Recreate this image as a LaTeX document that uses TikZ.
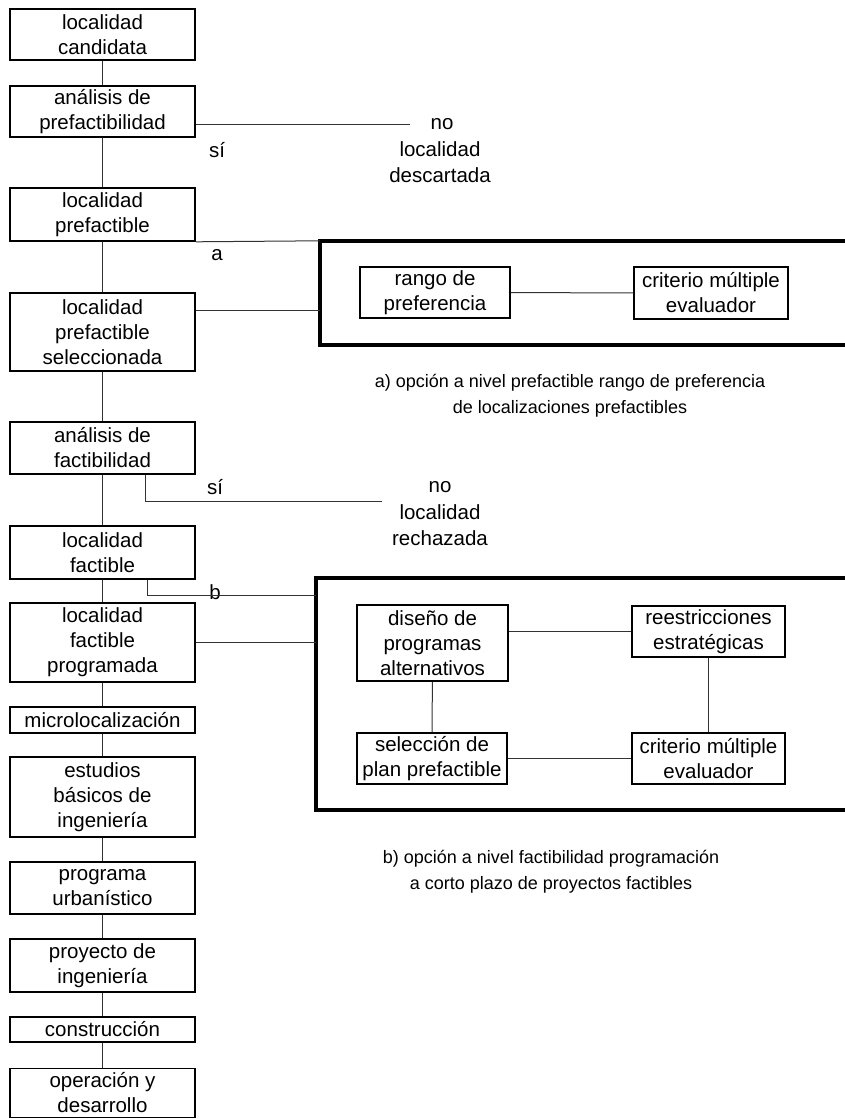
\documentclass[tikz,border=0pt]{standalone}
\usepackage{fontspec}
\setmainfont{Liberation Sans}
\begin{document}
\begin{tikzpicture}[x=1pt,y=-1pt,
  txt/.style={font=\fontsize{20.5}{25}\selectfont},
  box/.style={txt,draw,line width=1.6pt,minimum width=185pt,inner sep=0pt,align=center},
  ibox/.style={txt,draw,line width=1.5pt,inner sep=0pt,align=center},
  panel/.style={line width=3.6pt,line cap=rect},
  link/.style={line width=1pt,draw=black!80},
  lbl/.style={font=\fontsize{20.5}{26}\selectfont,inner sep=0pt,align=center},
  captxt/.style={font=\fontsize{18}{26}\selectfont,inner sep=0pt,align=center},
  frame/.style={inner sep=0pt,minimum width=#1}]
\useasboundingbox (0,0) rectangle (845,1119);

% main sequence of stages
\node[box,minimum height=51pt] (b1)  at (102.5,34.5)  {localidad\\candidata};
\node[box,minimum height=51pt] (b2)  at (102.5,111.5) {análisis de\\prefactibilidad};
\node[box,minimum height=53pt] (b3)  at (102.5,214.5) {localidad\\prefactible};
\node[box,minimum height=78pt] (b4)  at (102.5,332)   {localidad\\prefactible\\seleccionada};
\node[box,minimum height=52pt] (b5)  at (102.5,448)   {análisis de\\factibilidad};
\node[box,minimum height=53pt] (b6)  at (102.5,552.5) {localidad\\factible};
\node[box,minimum height=79pt] (b7)  at (102.5,642.5) {localidad\\factible\\programada};
\node[box,minimum height=26pt] (b8)  at (102.5,720)   {microlocalización};
\node[box,minimum height=80pt] (b9)  at (102.5,797)   {estudios\\básicos de\\ingeniería};
\node[box,minimum height=52pt] (b10) at (102.5,888)   {programa\\urbanístico};
\node[box,minimum height=53pt] (b11) at (102.5,965.5) {proyecto de\\ingeniería};
\node[box,minimum height=25pt] (b12) at (102.5,1029.5){construcción};
\node[box,minimum height=49pt] (b13) at (102.5,1093)  {operación y\\desarrollo};

\foreach \u/\v in {b1/b2,b2/b3,b3/b4,b4/b5,b5/b6,b6/b7,b7/b8,b8/b9,b9/b10,b10/b11,b11/b12,b12/b13}
  \draw[link] (\u) -- (\v);

% decision labels
\node[lbl] (si1)  at (217,150) {sí};
\node[lbl] (no1)  at (442,124) {no};
\node[lbl] (desc) at (440,162) {localidad\\descartada};
\node[lbl] (la)   at (217,255) {a};
\node[lbl] (si2)  at (215,487) {sí};
\node[lbl] (no2)  at (440,487) {no};
\node[lbl] (rech) at (440,525) {localidad\\rechazada};
\node[lbl] (lb)   at (215,592) {b};
\coordinate (rend) at (382,501);

\draw[link] (b2.east |- no1) -- ([xshift=-20pt]no1.west);
\draw[link] ([xshift=42.5pt]b5.south) |- (rend);

% option a: preference ranking
\node[frame=530pt,minimum height=104pt] (pa) at (585,293) {};
\draw[panel] (pa.north east) -- (pa.north west) -- (pa.south west) -- (pa.south east);
\node[ibox,minimum width=150pt,minimum height=51pt] (ra) at (435,292.5) {rango de\\preferencia};
\node[ibox,minimum width=154pt,minimum height=52pt] (ca) at (711,293) {criterio múltiple\\evaluador};
\draw[link] (ra) -- (ca);
\draw[link] (b3.south east) -- (pa.north west);
\draw[link] ([yshift=22pt]b4.east) -- ([yshift=22pt]b4.east -| pa.west);
\node[captxt] (capa) at (570,396) {a) opción a nivel prefactible rango de preferencia\\de localizaciones prefactibles};

% option b: short-term programming
\node[frame=534pt,minimum height=232pt] (pb) at (583,694) {};
\draw[panel] (pb.north east) -- (pb.north west) -- (pb.south west) -- (pb.south east);
\node[ibox,minimum width=151pt,minimum height=76pt] (dp) at (432.5,643) {diseño de\\programas\\alternativos};
\node[ibox,minimum width=153pt,minimum height=51pt] (re) at (708.5,631.5) {reestricciones\\estratégicas};
\node[ibox,minimum width=150pt,minimum height=51pt] (sp) at (432,758.5) {selección de\\plan prefactible};
\node[ibox,minimum width=153pt,minimum height=51pt] (cb) at (708.5,758.5) {criterio múltiple\\evaluador};
\draw[link] (re.west -| dp.east) -- (re.west);
\draw[link] (dp) -- (sp);
\draw[link] (re) -- (cb);
\draw[link] (sp) -- (cb);
\draw[link] ([xshift=44.5pt]b6.south) |- ([yshift=99pt]pb.west);
\draw[link] (b7.east) -- (b7.east -| pb.west);
\node[captxt] (capb) at (551,872) {b) opción a nivel factibilidad programación\\a corto plazo de proyectos factibles};
\end{tikzpicture}
\end{document}
